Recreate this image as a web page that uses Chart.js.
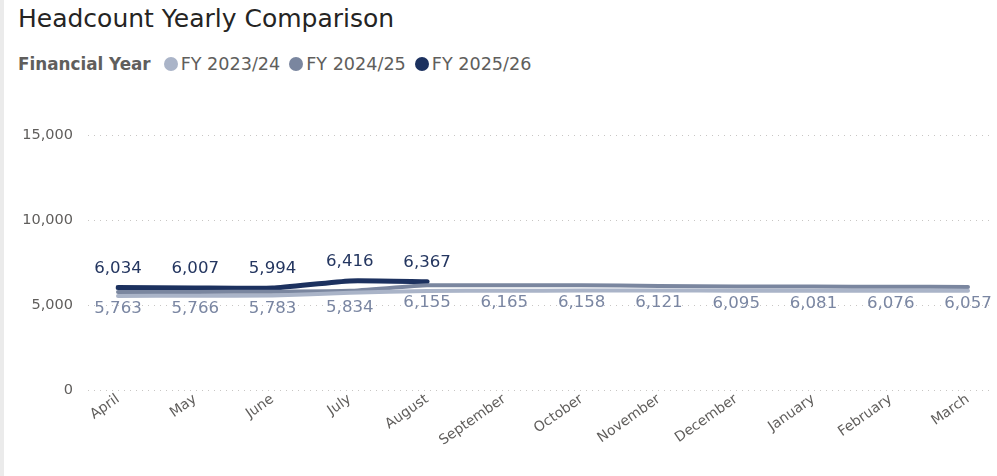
<!DOCTYPE html>
<html>
<head>
<meta charset="utf-8">
<script src="https://cdn.jsdelivr.net/npm/chart.js@4.4.1/dist/chart.umd.min.js"></script>
<style>
  html, body { margin: 0; padding: 0; background: #ebebeb; overflow: hidden; }
  #card { position: absolute; left: 4px; top: -12px; width: 1010px; height: 500px; background: #fff; border-radius: 9px; overflow: hidden; }
  #wrap { position: absolute; left: -4px; top: 12px; width: 997px; height: 476px; }
  #title { position: absolute; left: 18px; top: 4px; font-family: "DejaVu Sans", sans-serif; font-size: 25px; color: #252423; white-space: nowrap; }
  #legend { position: absolute; left: 18px; top: 54px; font-family: "DejaVu Sans", sans-serif; font-size: 17.6px; color: #605e5c; white-space: nowrap; display: flex; align-items: center; }
  #legend .ttl { font-weight: bold; font-size: 16.8px; margin-right: 13px; }
  #legend .item { display: flex; align-items: center; margin-right: 9px; }
  #legend .dot { width: 14px; height: 14px; border-radius: 50%; margin-right: 3px; }
  canvas { position: absolute; left: 0; top: 0; }
</style>
</head>
<body>
<div id="card"><div id="wrap">
  <div id="title">Headcount Yearly Comparison</div>
  <div id="legend"><span class="ttl">Financial Year</span></div>
  <canvas id="c" width="997" height="476"></canvas>
</div></div>
<script>
const months = ["April","May","June","July","August","September","October","November","December","January","February","March"];
const seriesNames = ["FY 2023/24","FY 2024/25","FY 2025/26"];
const fy2324 = [5530,5545,5560,5720,5820,5840,5850,5850,5845,5845,5840,5840];
const fy2425 = [5763,5766,5783,5834,6155,6165,6158,6121,6095,6081,6076,6057];
const fy2526 = [6034,6007,5994,6416,6367,null,null,null,null,null,null,null];
const yTicks = [0,5000,10000,15000];
const colors = ["#aab4c8","#7a869f","#1c315f"];
const labelColors = [null,"#7a86a2","#243660"];

const legend = document.getElementById('legend');
seriesNames.forEach((n,i)=>{
  const it = document.createElement('span'); it.className='item';
  it.innerHTML = '<span class="dot" style="background:'+colors[i]+'"></span><span>'+n+'</span>';
  legend.appendChild(it);
});

const fmt = v => v.toLocaleString('en-US');

const gridPlugin = {
  id: 'dotGrid',
  beforeDatasetsDraw(chart){
    const {ctx} = chart; const y = chart.scales.y;
    ctx.save();
    ctx.strokeStyle = '#c8c6c4'; ctx.lineWidth = 1; ctx.setLineDash([1,5]);
    yTicks.forEach(t=>{
      const py = Math.round(y.getPixelForValue(t))+0.5;
      ctx.beginPath(); ctx.moveTo(88,py); ctx.lineTo(990,py); ctx.stroke();
    });
    ctx.restore();
  }
};

const labelPlugin = {
  id: 'dataLabels',
  afterDatasetsDraw(chart){
    const {ctx} = chart;
    ctx.save();
    ctx.font = '16.6px "DejaVu Sans", sans-serif';
    ctx.textAlign = 'center'; ctx.textBaseline = 'middle';
    [1,2].forEach(di=>{
      const meta = chart.getDatasetMeta(di);
      const data = chart.data.datasets[di].data;
      meta.data.forEach((pt,i)=>{
        const v = data[i]; if (v == null) return;
        const dy = di === 2 ? -19 : 17;
        ctx.fillStyle = labelColors[di];
        ctx.fillText(fmt(v), pt.x, pt.y + dy);
      });
    });
    ctx.restore();
  }
};

new Chart(document.getElementById('c'), {
  type: 'line',
  data: {
    labels: months,
    datasets: [
      {label: seriesNames[0], data: fy2324, borderColor: colors[0], backgroundColor: colors[0], borderWidth: 4, pointRadius: 0, tension: 0.15, borderCapStyle: 'round', borderJoinStyle: 'round'},
      {label: seriesNames[1], data: fy2425, borderColor: colors[1], backgroundColor: colors[1], borderWidth: 4, pointRadius: 0, tension: 0.15, borderCapStyle: 'round', borderJoinStyle: 'round'},
      {label: seriesNames[2], data: fy2526, borderColor: colors[2], backgroundColor: colors[2], borderWidth: 5, pointRadius: 0, tension: 0.15, borderCapStyle: 'round', borderJoinStyle: 'round'}
    ]
  },
  options: {
    responsive: false, animation: false,
    layout: { padding: { top: 135, right: 29, left: 0, bottom: 0 } },
    plugins: { legend: { display: false }, title: { display: false }, tooltip: { enabled: false } },
    scales: {
      x: {
        offset: false,
        grid: { display: false, drawTicks: false },
        border: { display: false },
        ticks: { color: '#605e5c', font: { family: 'DejaVu Sans', size: 14 }, minRotation: 35, maxRotation: 35, padding: 1, autoSkip: false },
        afterFit(s){ s.height = 86; }
      },
      y: {
        min: 0, max: 15000,
        afterBuildTicks(s){ s.ticks = yTicks.map(v=>({value:v})); },
        grid: { display: false, drawTicks: false },
        border: { display: false },
        ticks: { color: '#605e5c', font: { family: 'DejaVu Sans', size: 14.5 }, padding: 45, callback: v => fmt(v) },
        afterFit(s){ s.width = 118; }
      }
    }
  },
  plugins: [gridPlugin, labelPlugin]
});
</script>
</body>
</html>
